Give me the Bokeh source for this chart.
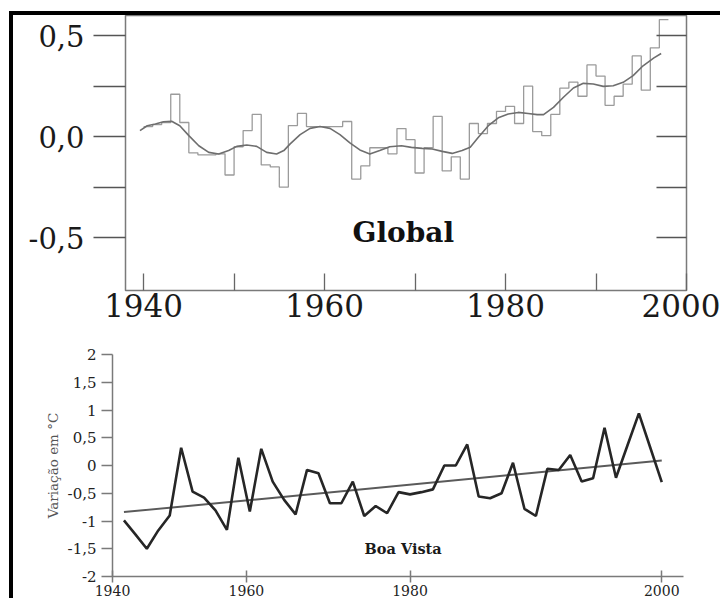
from bokeh.plotting import figure
from bokeh.models import FixedTicker, LinearAxis, Range1d
from bokeh.layouts import column
from bokeh.core.properties import value
from bokeh.embed import file_html
from bokeh.resources import INLINE

# ---------------- Global (annual anomaly, °C) ----------------
global_years = list(range(1940, 1998))
global_anom = [0.05, 0.06, 0.07, 0.21, 0.07, -0.08, -0.09, -0.09, -0.085, -0.19,
               -0.05, 0.03, 0.11, -0.14, -0.15, -0.25, 0.055, 0.115, 0.05, 0.05,
               0.05, 0.05, 0.075, -0.21, -0.145, -0.055, -0.055, -0.085, 0.04, -0.015,
               -0.18, -0.055, 0.10, -0.17, -0.10, -0.21, 0.065, 0.015, 0.065, 0.125,
               0.15, 0.065, 0.25, 0.025, 0.005, 0.11, 0.24, 0.27, 0.20, 0.355,
               0.30, 0.155, 0.20, 0.26, 0.40, 0.23, 0.44, 0.58]
smooth_years = [1939.6, 1940.4, 1941.3, 1942.2, 1943.1, 1944.0, 1945.0, 1946.1, 1947.2, 1948.3,
                1949.4, 1950.3, 1951.4, 1952.5, 1953.6, 1954.7, 1955.5, 1956.2, 1957.3, 1958.4,
                1959.5, 1960.6, 1961.7, 1962.8, 1963.9, 1965.0, 1966.1, 1967.2, 1968.5, 1969.6,
                1970.8, 1971.9, 1973.0, 1974.1, 1975.2, 1976.1, 1977.0, 1978.1, 1979.2, 1980.3,
                1981.4, 1982.5, 1983.5, 1984.2, 1985.3, 1986.4, 1987.5, 1988.6, 1989.7, 1990.8,
                1991.9, 1993.0, 1994.1, 1995.2, 1996.4, 1997.2]
smooth_anom = [0.03, 0.054, 0.063, 0.074, 0.076, 0.054, 0.005, -0.045, -0.078, -0.086,
               -0.069, -0.048, -0.041, -0.048, -0.078, -0.086, -0.069, -0.036, 0.01, 0.041,
               0.05, 0.041, 0.01, -0.031, -0.066, -0.086, -0.069, -0.05, -0.045, -0.053,
               -0.058, -0.061, -0.073, -0.083, -0.069, -0.053, -0.003, 0.054, 0.093, 0.112,
               0.12, 0.115, 0.109, 0.109, 0.145, 0.195, 0.241, 0.264, 0.261, 0.249,
               0.252, 0.269, 0.302, 0.351, 0.39, 0.412]
global_yticks = [-0.5, -0.25, 0.0, 0.25, 0.5]
global_ytick_labels = ["-0,5", "", "0,0", "", "0,5"]
global_xticks = [1940, 1950, 1960, 1970, 1980, 1990, 2000]
global_xtick_labels = ["1940", "", "1960", "", "1980", "", "2000"]

# ---------------- Boa Vista ----------------
bv_years = list(range(1953, 2001))
bv_anom = [-0.99, -1.24, -1.50, -1.17, -0.90, 0.32, -0.47, -0.58, -0.81, -1.16,
           0.14, -0.83, 0.30, -0.29, -0.62, -0.88, -0.08, -0.14, -0.68, -0.68,
           -0.29, -0.91, -0.73, -0.86, -0.48, -0.52, -0.48, -0.43, 0.00, 0.00,
           0.38, -0.56, -0.59, -0.50, 0.05, -0.78, -0.91, -0.06, -0.08, 0.19,
           -0.29, -0.23, 0.68, -0.22, 0.36, 0.94, 0.32, -0.30]
bv_trend_years = [1953, 2000]
bv_trend = [-0.84, 0.09]
bv_yticks = [-2, -1.5, -1, -0.5, 0, 0.5, 1, 1.5, 2]
bv_ytick_labels = ["-2", "-1,5", "-1", "-0,5", "0", "0,5", "1", "1,5", "2"]
bv_xtick_pos = [1952.0, 1963.7, 1978.0, 2000.0]
bv_xtick_labels = ["1940", "1960", "1980", "2000"]

SERIF = "DejaVu Serif"

# ---------------- top figure ----------------
p1 = figure(width=707, height=310, x_range=Range1d(1938.0, 2000.0), y_range=Range1d(-0.762, 0.6),
            output_backend="svg", toolbar_location=None, frame_align=False,
            min_border_left=112, min_border_right=34, min_border_top=0, min_border_bottom=35)
p1.grid.visible = False
p1.outline_line_color = "#7a7a7a"
p1.outline_line_width = 1.5

step_x = global_years + [global_years[-1] + 1]
step_y = global_anom + [global_anom[-1]]
p1.step(step_x, step_y, mode="after", line_color="#9b9b9b", line_width=1.3)
p1.line(smooth_years, smooth_anom, line_color="#6e6e6e", line_width=1.6)
p1.text(x=[1968.7], y=[-0.475], text=["Global"], text_font=value(SERIF), text_font_style="bold",
        text_font_size="28px", text_align="center", text_baseline="middle", text_color="#111111")

ya = p1.yaxis[0]
ya.ticker = FixedTicker(ticks=global_yticks)
ya.major_label_overrides = dict(zip(global_yticks, global_ytick_labels))
ya.major_tick_out = 32
ya.major_tick_in = 0
ya.minor_tick_line_color = None
ya.axis_line_color = None
ya.major_tick_line_color = "#555555"
ya.major_tick_line_width = 1.5
ya.major_label_standoff = 9
ya.major_label_text_font = SERIF
ya.major_label_text_font_size = "29px"
ya.major_label_text_color = "#1a1a1a"

ra = LinearAxis(ticker=FixedTicker(ticks=global_yticks),
                major_label_overrides={t: "" for t in global_yticks},
                major_tick_in=30, major_tick_out=0, axis_line_color=None,
                minor_tick_line_color=None, major_tick_line_color="#555555",
                major_tick_line_width=1.5)
p1.add_layout(ra, "right")

xa = p1.xaxis[0]
xa.ticker = FixedTicker(ticks=global_xticks)
xa.major_label_overrides = dict(zip(global_xticks, global_xtick_labels))
xa.major_tick_in = 17
xa.major_tick_out = 0
xa.minor_tick_line_color = None
xa.axis_line_color = None
xa.major_tick_line_color = "#666666"
xa.major_tick_line_width = 1.3
xa.major_label_standoff = 3
xa.major_label_text_font = SERIF
xa.major_label_text_font_size = "31px"
xa.major_label_text_color = "#1a1a1a"

# ---------------- bottom figure ----------------
p2 = figure(width=707, height=273, x_range=Range1d(1952.0, 2001.9), y_range=Range1d(-2, 2),
            output_backend="svg", toolbar_location=None, frame_align=False,
            min_border_left=99, min_border_right=37, min_border_top=29, min_border_bottom=22)
p2.grid.visible = False
p2.outline_line_color = None

p2.line(bv_trend_years, bv_trend, line_color="#5a5a5a", line_width=2)
p2.line(bv_years, bv_anom, line_color="#262626", line_width=2.6)
p2.text(x=[1977.4], y=[-1.49], text=["Boa Vista"], text_font=value(SERIF), text_font_style="bold",
        text_font_size="14.5px", text_align="center", text_baseline="middle", text_color="#1a1a1a")

by = p2.yaxis[0]
by.ticker = FixedTicker(ticks=bv_yticks)
by.major_label_overrides = dict(zip(bv_yticks, bv_ytick_labels))
by.major_tick_out = 11
by.major_tick_in = 0
by.minor_tick_line_color = None
by.axis_line_color = "#7a7a7a"
by.axis_line_width = 1.5
by.major_tick_line_color = "#7a7a7a"
by.major_tick_line_width = 1.5
by.major_label_standoff = 5
by.major_label_text_font = SERIF
by.major_label_text_font_size = "15px"
by.major_label_text_color = "#222222"
by.axis_label = "Variação em °C"
by.axis_label_text_font = SERIF
by.axis_label_text_font_style = "normal"
by.axis_label_text_font_size = "13.5px"
by.axis_label_text_color = "#555555"
by.axis_label_standoff = 4

bx = p2.xaxis[0]
bx.ticker = FixedTicker(ticks=bv_xtick_pos)
bx.major_label_overrides = dict(zip(bv_xtick_pos, bv_xtick_labels))
bx.major_tick_in = 6
bx.major_tick_out = 6
bx.minor_tick_line_color = None
bx.axis_line_color = "#7a7a7a"
bx.axis_line_width = 1.5
bx.major_tick_line_color = "#7a7a7a"
bx.major_tick_line_width = 1.5
bx.major_label_standoff = 2
bx.major_label_text_font = SERIF
bx.major_label_text_font_size = "14px"
bx.major_label_text_color = "#222222"

layout = column(p1, p2, margin=(11, 0, 0, 9),
                styles={"border-left": "4px solid #000", "border-top": "4px solid #000"})

open("out.html", "w").write(file_html(layout, INLINE))
